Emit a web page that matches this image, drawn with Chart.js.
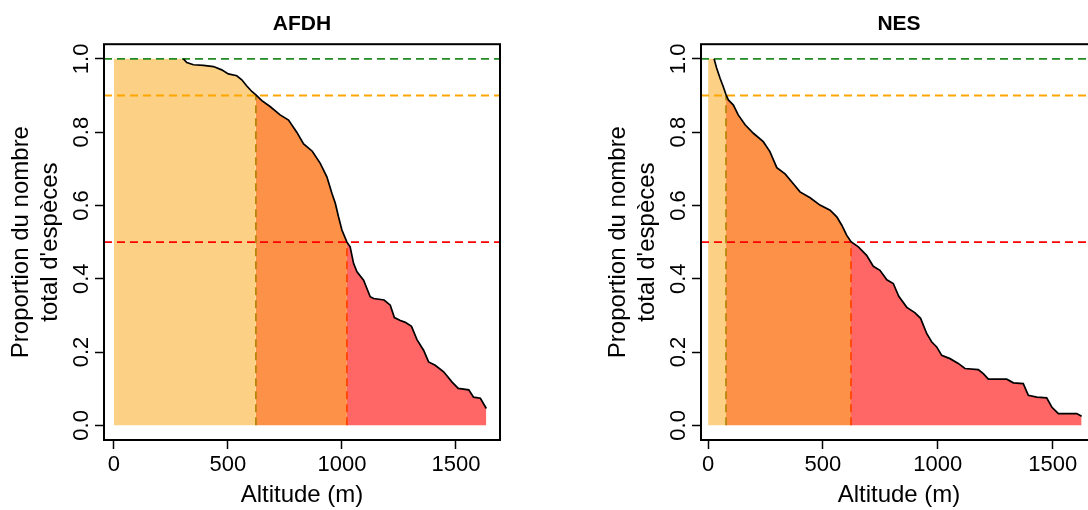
<!DOCTYPE html>
<html>
<head>
<meta charset="utf-8">
<script src="https://cdn.jsdelivr.net/npm/chart.js@4.4.1/dist/chart.umd.min.js"></script>
<style>
  html, body { margin: 0; padding: 0; background: #fff; overflow: hidden; width: 1088px; height: 510px; }
  .panel { position: absolute; top: 0; width: 544px; height: 510px; }
</style>
</head>
<body>
<div class="panel" style="left:0"><canvas id="afdh" width="544" height="510"></canvas></div>
<div class="panel" style="left:597px"><canvas id="nes" width="544" height="510"></canvas></div>
<script>
// courbes : altitude (m) -> proportion du nombre total d'espèces
const afdhAltitude = [0, 305, 320, 349, 393, 437, 473, 502, 539, 561, 583, 605, 623, 649, 685, 729, 766, 802, 832, 870,
  905, 934, 956, 971, 985, 1000, 1022, 1036, 1051, 1066, 1095, 1124, 1139, 1185, 1212, 1230, 1256, 1278, 1305, 1329,
  1358, 1380, 1409, 1446, 1483, 1510, 1556, 1577, 1607, 1633];
const afdhProportion = [1.0, 1.0, 0.990, 0.984, 0.982, 0.979, 0.970, 0.959, 0.954, 0.943, 0.926, 0.911, 0.902, 0.886, 0.870, 0.847, 0.833, 0.800, 0.768, 0.748,
  0.715, 0.678, 0.633, 0.606, 0.569, 0.533, 0.500, 0.487, 0.442, 0.419, 0.396, 0.351, 0.346, 0.342, 0.328, 0.294, 0.286, 0.281, 0.270, 0.234,
  0.205, 0.173, 0.164, 0.146, 0.118, 0.101, 0.097, 0.077, 0.074, 0.046];

const nesAltitude = [0, 26, 37, 52, 66, 78, 88, 110, 131, 161, 197, 240, 269, 299, 335, 370, 400, 444, 487, 531,
  560, 582, 603, 622, 654, 690, 719, 748, 778, 806, 830, 865, 901, 925, 952, 973, 995, 1017, 1053, 1089,
  1118, 1176, 1198, 1220, 1300, 1329, 1372, 1394, 1431, 1474, 1496, 1525, 1605, 1626];
const nesProportion = [1.0, 1.0, 0.975, 0.947, 0.924, 0.902, 0.888, 0.874, 0.847, 0.820, 0.797, 0.774, 0.747, 0.703, 0.686, 0.660, 0.637, 0.621, 0.601, 0.587,
  0.569, 0.546, 0.519, 0.501, 0.487, 0.464, 0.434, 0.423, 0.397, 0.387, 0.352, 0.322, 0.307, 0.292, 0.250, 0.228, 0.214, 0.191, 0.182, 0.169,
  0.155, 0.152, 0.141, 0.126, 0.126, 0.116, 0.114, 0.082, 0.077, 0.075, 0.050, 0.032, 0.032, 0.025];

// altitudes où la courbe passe 0.9 puis 0.5
const afdhSeuils = [623, 1022];
const nesSeuils = [78, 622];
const niveaux = [1.0, 0.9, 0.5];

const panelTitles = ['AFDH', 'NES'];
const xTicks = [0, 500, 1000, 1500];
const xTickLabels = ['0', '500', '1000', '1500'];
const yTicks = [0, 0.2, 0.4, 0.6, 0.8, 1.0];
const yTickLabels = ['0.0', '0.2', '0.4', '0.6', '0.8', '1.0'];

const FONT = "'Liberation Sans', Arial, sans-serif";
const couleursZones = ['#FDD185', '#FD9148', '#FF6666'];
const couleursNiveaux = ['#228B22', '#FFA500', '#FF0000'];
const couleursSeuils = ['#B8860B', '#FF4500'];

const cadre = {
  id: 'cadre',
  afterDatasetsDraw(chart) {
    const { ctx, chartArea: a } = chart;
    ctx.save();
    ctx.strokeStyle = '#000';
    ctx.lineWidth = 2;
    ctx.strokeRect(a.left, a.top, a.right - a.left, a.bottom - a.top);
    ctx.restore();
  }
};

function points(alt, prop, lo, hi) {
  return alt.map((a, i) => ({ x: a, y: prop[i] })).filter(p => p.x >= lo && p.x <= hi);
}

function dessine(id, titre, alt, prop, seuils, xMin, xMax) {
  const bornes = [-Infinity, seuils[0], seuils[1], Infinity];
  const datasets = [];
  // zones colorées sous la courbe
  for (let k = 0; k < 3; k++) {
    datasets.push({
      data: points(alt, prop, bornes[k], bornes[k + 1]),
      fill: 'origin', backgroundColor: couleursZones[k],
      borderColor: 'rgba(0,0,0,0)', borderWidth: 0, pointRadius: 0, order: 3
    });
  }
  // lignes horizontales 1.0 / 0.9 / 0.5
  niveaux.forEach((n, k) => {
    datasets.push({
      data: [{ x: xMin, y: n }, { x: xMax, y: n }],
      borderColor: couleursNiveaux[k], borderWidth: 1.8, borderDash: [8, 5],
      pointRadius: 0, fill: false, order: 2
    });
  });
  // lignes verticales aux seuils
  seuils.forEach((s, k) => {
    datasets.push({
      data: [{ x: s, y: 0 }, { x: s, y: niveaux[k + 1] }],
      borderColor: couleursSeuils[k], borderWidth: 1.8, borderDash: [8, 5],
      pointRadius: 0, fill: false, order: 2
    });
  });
  // courbe
  datasets.push({
    data: points(alt, prop, alt[1], Infinity),
    borderColor: '#000', borderWidth: 1.7, pointRadius: 0, fill: false, order: 0
  });

  new Chart(document.getElementById(id), {
    type: 'line',
    data: { datasets },
    plugins: [cadre],
    options: {
      responsive: false,
      animation: false,
      layout: { padding: { left: 0, right: 44, top: 0, bottom: 0 } },
      plugins: {
        legend: { display: false },
        tooltip: { enabled: false },
        title: {
          display: true, text: titre, fullSize: false, color: '#000',
          font: { family: FONT, size: 21, weight: 'bold' },
          padding: { top: 12, bottom: 7 }
        }
      },
      scales: {
        x: {
          type: 'linear', min: xMin, max: xMax,
          afterBuildTicks: s => { s.ticks = xTicks.map(v => ({ value: v })); },
          afterFit: s => { s.height = 70; },
          border: { display: false },
          grid: { drawOnChartArea: false, tickLength: 9, tickColor: '#000', tickWidth: 1.5 },
          ticks: {
            color: '#000', font: { family: FONT, size: 22 }, padding: 3,
            maxRotation: 0, autoSkip: false,
            callback: (v, i) => xTickLabels[i]
          },
          title: {
            display: true, text: 'Altitude (m)', color: '#000',
            font: { family: FONT, size: 24 }, padding: { top: 0, bottom: 0 }
          }
        },
        y: {
          type: 'linear', min: -0.04, max: 1.04,
          afterBuildTicks: s => { s.ticks = yTicks.map(v => ({ value: v })); },
          afterFit: s => { s.width = 104; },
          border: { display: false },
          grid: { drawOnChartArea: false, tickLength: 9, tickColor: '#000', tickWidth: 1.5 },
          ticks: {
            color: '#000', font: { family: FONT, size: 22 },
            minRotation: 90, maxRotation: 90, crossAlign: 'center', padding: -2,
            callback: (v, i) => yTickLabels[i]
          },
          title: {
            display: true, text: ['Proportion du nombre', "total d'espèces"], color: '#000',
            font: { family: FONT, size: 24 }, padding: { top: 7 }
          }
        }
      }
    }
  });
}

dessine('afdh', panelTitles[0], afdhAltitude, afdhProportion, afdhSeuils, -43, 1693);
dessine('nes', panelTitles[1], nesAltitude, nesProportion, nesSeuils, -31, 1693);
</script>
</body>
</html>
